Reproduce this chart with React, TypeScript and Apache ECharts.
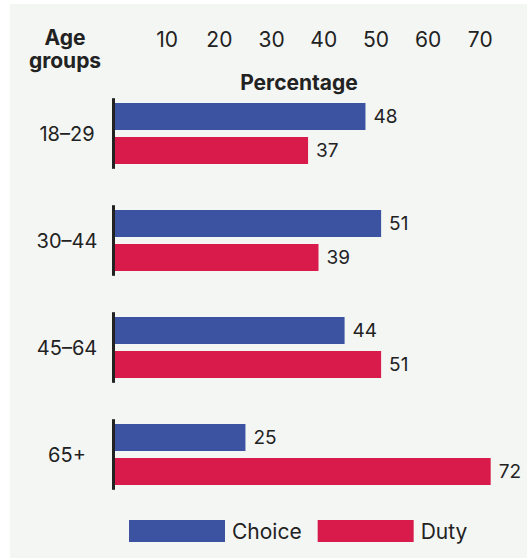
import React, { useEffect, useRef } from "react";
import * as echarts from "echarts";

const categories = ["18–29", "30–44", "45–64", "65+"];
const choiceValues = [48, 51, 44, 25];
const dutyValues = [37, 39, 51, 72];
const seriesNames = ["Choice", "Duty"];
const xTicks = [10, 20, 30, 40, 50, 60, 70];

const BLUE = "#3b53a1";
const RED = "#d81b4a";
const INK = "#222222";
const FONT = "Inter, Roboto, 'Liberation Sans', sans-serif";

export default function App() {
  const ref = useRef<HTMLDivElement>(null);
  useEffect(() => {
    if (!ref.current) return;
    const chart = echarts.init(ref.current, undefined, { renderer: "svg" });
    chart.setOption({
      animation: false,
      backgroundColor: "#f4f6f4",
      textStyle: { fontFamily: FONT },
      grid: { left: 105, right: 5, top: 76, bottom: 50 },
      xAxis: {
        type: "value",
        position: "top",
        min: 0,
        max: 78,
        interval: 10,
        axisLine: { show: false },
        axisTick: { show: false },
        splitLine: { show: false },
        axisLabel: {
          fontSize: 21,
          color: INK,
          fontFamily: FONT,
          verticalAlign: "middle",
          margin: 41,
          formatter: (v: number) => (xTicks.includes(v) ? String(v) : ""),
        },
      },
      yAxis: {
        type: "category",
        data: categories,
        inverse: true,
        axisLine: { show: false },
        axisTick: { show: false },
        axisLabel: {
          fontSize: 20,
          color: INK,
          fontFamily: FONT,
          align: "center",
          margin: 48,
        },
      },
      legend: {
        left: 114,
        top: 511,
        itemWidth: 96,
        itemHeight: 22,
        itemGap: 16,
        icon: "rect",
        data: seriesNames,
        textStyle: { fontSize: 21, color: INK, fontFamily: FONT, padding: [0, 0, 0, 2] },
      },
      graphic: [
        {
          type: "text",
          x: 55,
          y: 33,
          style: {
            text: "Age",
            font: `bold 21px ${FONT}`,
            fill: INK,
            textAlign: "center",
            textVerticalAlign: "middle",
          },
        },
        {
          type: "text",
          x: 55,
          y: 56,
          style: {
            text: "groups",
            font: `bold 21px ${FONT}`,
            fill: INK,
            textAlign: "center",
            textVerticalAlign: "middle",
          },
        },
        {
          type: "text",
          x: 289,
          y: 78,
          style: {
            text: "Percentage",
            font: `bold 21px ${FONT}`,
            fill: INK,
            textAlign: "center",
            textVerticalAlign: "middle",
          },
        },
      ],
      series: [
        {
          name: seriesNames[0],
          type: "bar",
          data: choiceValues,
          barWidth: 27,
          barGap: "26%",
          itemStyle: { color: BLUE },
          label: {
            show: true,
            position: "right",
            distance: 8,
            fontSize: 19,
            color: INK,
            fontFamily: FONT,
          },
        },
        {
          name: seriesNames[1],
          type: "bar",
          data: dutyValues,
          barWidth: 27,
          barGap: "26%",
          itemStyle: { color: RED },
          label: {
            show: true,
            position: "right",
            distance: 8,
            fontSize: 19,
            color: INK,
            fontFamily: FONT,
          },
        },
        {
          type: "custom",
          silent: true,
          data: categories.map((c) => [0, c]),
          encode: { x: 0, y: 1 },
          renderItem: (params: any, api: any) => {
            const pt = api.coord([api.value(0), api.value(1)]);
            const band = api.size([0, 1])[1];
            const half = band * 0.33;
            return {
              type: "line",
              shape: { x1: pt[0] - 1.5, y1: pt[1] - half, x2: pt[0] - 1.5, y2: pt[1] + half },
              style: { stroke: INK, lineWidth: 3 },
            };
          },
        },
      ],
    });
    return () => chart.dispose();
  }, []);
  return (
    <div
      ref={ref}
      style={{ position: "absolute", left: 10, top: 4, width: 517, height: 554 }}
    />
  );
}
